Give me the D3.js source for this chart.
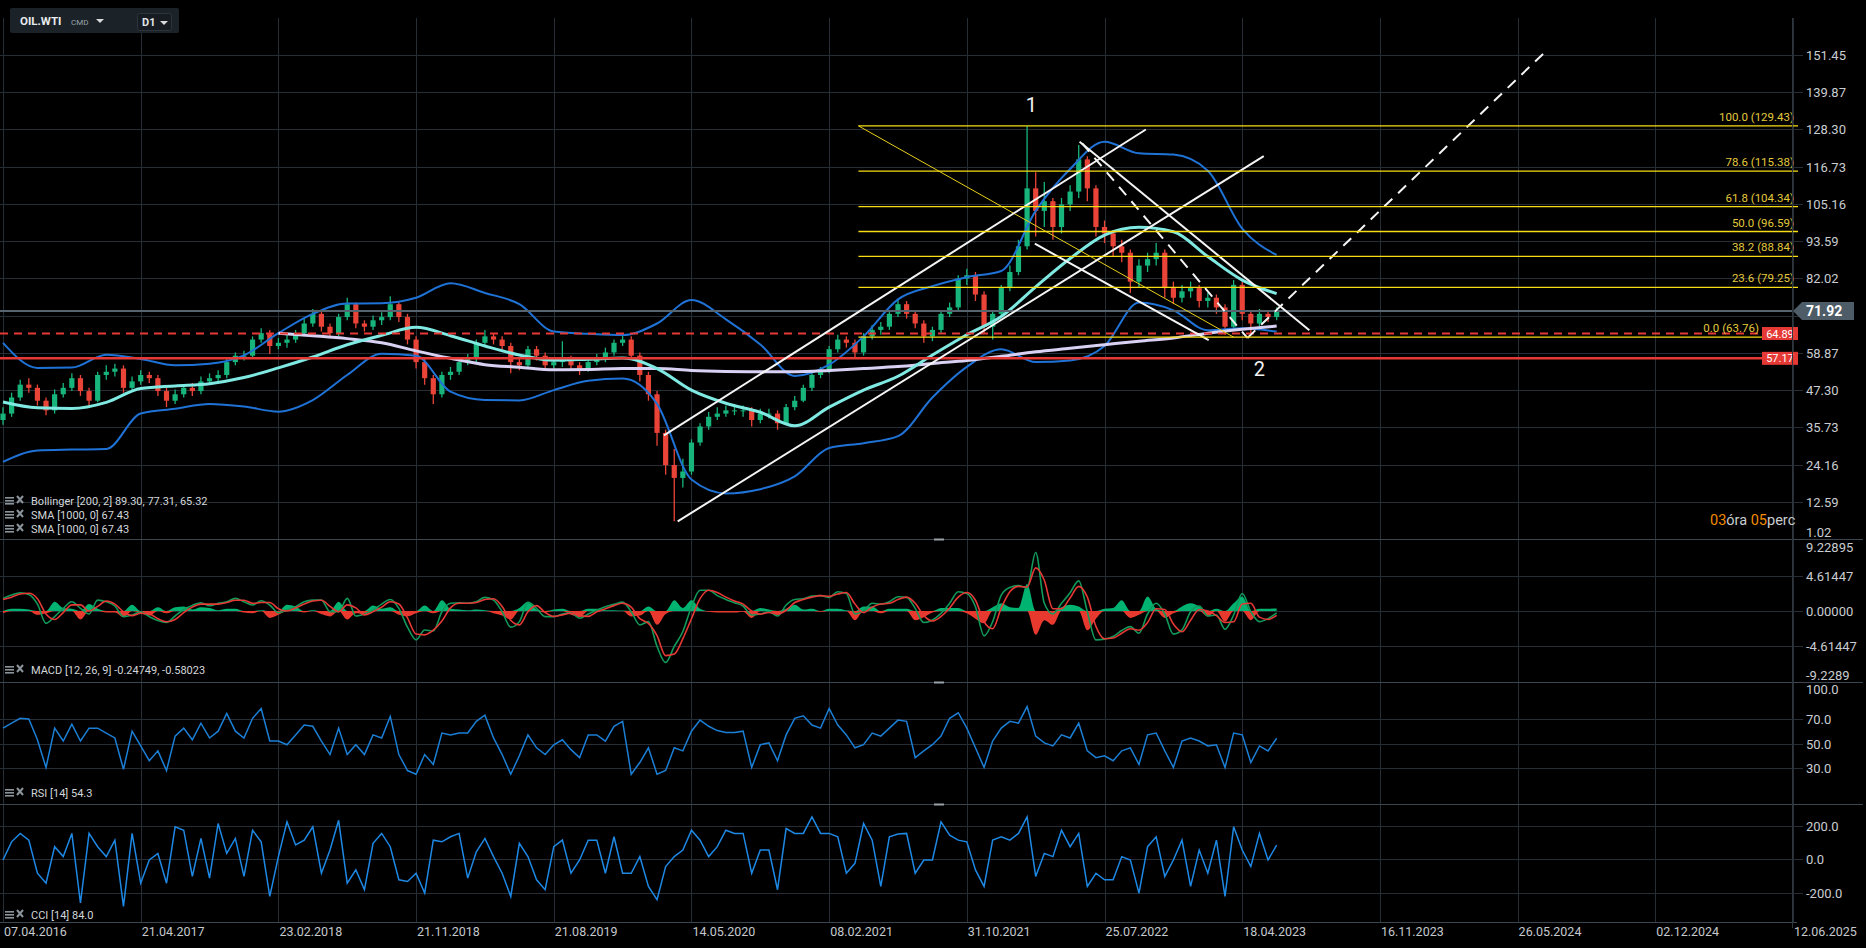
<!DOCTYPE html>
<html>
<head>
<meta charset="utf-8">
<script src="https://cdn.jsdelivr.net/npm/d3@7/dist/d3.min.js"></script>
<style>
  html, body { margin: 0; background: #000; }
  svg { display: block; font-family: Roboto, "Noto Sans", sans-serif; }
</style>
</head>
<body>
<div id="chart"></div>
<script>
'use strict';

/* OIL.WTI D1 – Kerze + Bollinger/SMA, darunter MACD, RSI, CCI.
   Ein Datenpunkt = ein Balkenblock (Index i), 16 Indizes je Datumsraster. */

const DATE_LABELS = ['07.04.2016', '21.04.2017', '23.02.2018', '21.11.2018', '21.08.2019',
  '14.05.2020', '08.02.2021', '31.10.2021', '25.07.2022', '18.04.2023', '16.11.2023',
  '26.05.2024', '02.12.2024', '12.06.2025'];
const BARS_PER_LABEL = 16;

const FIRST_OPEN = 38;
const CLOSES = [40, 45, 49, 48, 44, 41, 46, 48, 51, 47,
  44, 52, 53, 54, 48, 50, 52, 51, 47, 44,
  46, 48, 47, 50, 51, 52, 56, 58, 58, 63,
  65, 61, 62, 63, 65, 68, 71, 67, 65, 70,
  74, 68, 67, 69, 70, 74, 70, 63, 56, 51,
  46, 52, 53, 56, 57, 62, 64, 63, 61, 56,
  55, 60, 58, 55, 56, 57, 55, 54, 56, 57,
  59, 62, 63, 58, 52, 46, 34, 24, 20, 22,
  31, 36, 39, 40, 41, 41, 41, 38, 40, 40,
  37, 42, 44, 48, 52, 53, 60, 63, 62, 59,
  64, 66, 67, 71, 74, 71, 68, 64, 66, 71,
  73, 82, 83, 77, 67, 71, 79, 84, 92, 110,
  103, 106, 98, 105, 109, 119, 110, 98, 96, 92,
  90, 81, 86, 88, 90, 79, 76, 78, 79, 75,
  76, 73, 67, 80, 71, 68, 71, 70, 71.92];
const HIGHS = [42, 46.5, 50.5, 51, 49, 45, 47.5, 49.5, 52.5, 52,
  48, 53, 55, 55.5, 55, 51.5, 53.5, 53, 52, 48,
  47.5, 49, 49.5, 51.5, 52.5, 53.5, 57, 59, 59.5, 64,
  66.5, 66, 63.5, 64.5, 66, 69.5, 72.5, 72, 68, 71,
  76, 74.5, 69, 70.5, 71.5, 76.5, 75, 71, 64, 57,
  52, 53, 54.5, 57, 58.5, 63, 66, 65, 64, 62,
  57, 61, 61, 59, 57.5, 62.5, 58, 56, 57.5, 58.5,
  60.5, 63, 64.5, 64, 59, 53, 47, 35, 29, 26,
  32, 37, 40.5, 42, 42.5, 43, 42.5, 42, 41.5, 41.5,
  41, 43, 45.5, 49, 53, 54.5, 61, 64.5, 64, 63,
  65, 67.5, 68.5, 72, 75.5, 75, 72, 69, 67, 72,
  74.5, 83, 85, 84, 78, 72, 80, 86, 94, 129.4,
  115, 112, 107, 107, 111, 123.5, 120, 111, 100, 97,
  94, 91, 88, 90, 93, 91, 81, 80, 81, 80,
  77.5, 77, 74, 81.5, 81, 72, 72.5, 72, 73];
const LOWS = [36.5, 39, 44, 46.5, 42.5, 39.5, 40, 45, 47, 45.5,
  42, 43.5, 50.5, 51.5, 46.5, 47, 49, 49.5, 45.5, 42,
  43, 45, 45.5, 46, 49, 50, 51, 55, 56.5, 57.5,
  62, 58.5, 60, 60.5, 62, 64, 67, 65.5, 63.5, 64,
  69, 66.5, 65.5, 66, 67.5, 69, 68.5, 61.5, 54, 49,
  43, 45, 50.5, 52, 55, 56, 61, 61.5, 59.5, 52.5,
  53.5, 54, 56.5, 53.5, 54, 54.5, 53.5, 52, 53, 55,
  56, 58, 61, 57, 50, 44, 30, 21, 6.5, 17,
  21, 30, 35, 38, 39, 39.5, 39, 36, 37, 38.5,
  35, 36.5, 41, 43.5, 47, 51, 52.5, 59, 60.5, 57.5,
  58, 63, 64.5, 66, 70, 69.5, 66.5, 62, 62.5, 65,
  70, 72, 80, 75, 65, 63, 70, 78, 83, 91,
  95, 98, 94, 96, 103, 107, 106, 95, 93, 89,
  87, 77.5, 79, 84, 86, 76, 74, 74.5, 76, 73,
  73, 71, 64.5, 66, 69, 64.5, 67, 68.5, 69];

// Bollinger [200, 2] und SMA [1000] – jeder 4. Index
const BAND_STEP = 4;
const BB_UPPER = [62, 54.2, 54.3, 58.3, 57, 55, 55.5, 58.1, 65, 71,
  74.2, 74.3, 76, 80.5, 77.5, 74, 65.5, 64.8, 64.4, 68,
  75.3, 69.3, 61.5, 51.7, 55.2, 64, 75.5, 79.6, 82.4, 84.3,
  103, 116, 124.5, 120.9, 120.5, 115.5, 97.5, 89.3];
const BB_MIDDLE = [43.6, 41.8, 41.6, 43.5, 47.8, 48.6, 49.3, 51.2, 54.2, 57.6,
  61.4, 64.3, 66.8, 64.2, 61, 58.2, 56.6, 56.9, 57.3, 54,
  47.3, 43.2, 40.4, 36.2, 42, 47.3, 51.6, 58.2, 64.5, 70.2,
  79.4, 88.2, 95.5, 97.9, 96.5, 88.8, 81.5, 77.3];
const BB_LOWER = [25, 28.5, 28.8, 29, 40, 41.5, 43, 42.2, 40.6, 44.2,
  52, 58.6, 58, 46.8, 44.2, 44.1, 47.3, 50.2, 50.9, 43,
  19.5, 15.2, 16.5, 20.5, 29.3, 30.8, 33, 45, 54.5, 60,
  56, 56.5, 61, 74.5, 72.1, 65.9, 66.5, 65.5];
const SMA_1000 = [null, null, null, null, null, null, null, null, 65, 64.2,
  63.3, 62, 59.5, 57.2, 55.2, 54.4, 53.6, 53.7, 54, 54,
  53.4, 53.1, 53, 53, 53.4, 54, 54.6, 55.6, 56.5, 57.8,
  59.2, 60.3, 61.4, 62.5, 63.5, 65, 66.2, 67.2];

const MACD = [1.64, 2.07, 2.37, 2.16, 0.9, -1.6, -0.73, 0.34, 1.2, 0.34,
  -0.39, 1.42, 1.2, 0.65, -0.73, -0.52, -0.09, -0.73, -1.25, -1.5,
  -0.65, 0.2, 0.73, 1.08, 0.69, 1.0, 1.2, 1.64, 1.2, 0.78,
  1.34, 0.78, -0.22, 0.13, 0.56, 1.2, 1.42, 1.42, -0.09, -0.09,
  1.64, -0.65, -0.39, 0.13, 0.9, 1.5, 0.34, -2.1, -3.75, -2.46,
  -2.6, -0.1, 1.0, 1.08, 1.0, 1.2, 1.77, 1.42, -0.09, -2.1,
  -1.38, 1.12, 0.34, -0.73, -0.73, -0.39, -0.22, -0.95, -0.39, 0.13,
  0.56, 0.86, 1.16, -0.09, -1.81, -1.38, -4.6, -6.7, -4.6, -2.67,
  0.56, 2.7, 2.7, 2.0, 1.5, 1.08, 0.65, -0.52, -0.39, -0.09,
  -0.65, 0.78, 1.5, 1.6, 1.94, 2.0, 1.77, 2.5, 2.28, -0.39,
  0.04, 1.0, 0.9, 1.2, 1.85, 1.77, 0.34, -1.5, -1.16, -0.3,
  1.0, 2.5, 2.28, 0.56, -3.23, -1.38, 2.07, 3.06, 3.32, 3.0,
  7.6, 1.0, -0.39, 1.0, 2.37, 3.92, -0.09, -3.75, -3.66, -3.32,
  -2.54, -2.03, -2.89, -0.39, 1.0, -0.39, -3.0, -2.46, -0.09, 0.65,
  -0.65, -0.52, -2.37, -0.52, 2.28, -0.09, -1.38, -0.99, -0.25];
const MACD_SIGNAL = [1.5, 1.8, 2.2, 2.3, 1.6, -0.4, -1.1, -0.2, 0.8, 0.8,
  0.0, 0.6, 1.3, 0.9, -0.1, -0.6, -0.3, -0.4, -1.0, -1.4,
  -1.1, -0.2, 0.5, 0.9, 0.9, 0.9, 1.1, 1.4, 1.4, 1.0,
  1.1, 1.1, 0.3, 0.0, 0.4, 0.9, 1.3, 1.4, 0.6, -0.1,
  0.8, 0.4, -0.5, -0.1, 0.5, 1.2, 0.9, -0.9, -3.0, -3.1,
  -2.5, -1.3, 0.4, 1.0, 1.0, 1.1, 1.5, 1.6, 0.6, -1.2,
  -1.8, -0.1, 0.7, -0.2, -0.7, -0.5, -0.3, -0.6, -0.7, -0.1,
  0.3, 0.7, 1.0, 0.5, -1.0, -1.6, -3.2, -5.8, -5.6, -3.6,
  -1.0, 1.6, 2.7, 2.4, 1.8, 1.3, 0.9, 0.0, -0.4, -0.2,
  -0.4, 0.1, 1.1, 1.5, 1.8, 2.0, 1.9, 2.2, 2.4, 0.9,
  -0.2, 0.5, 0.9, 1.0, 1.5, 1.8, 1.0, -0.6, -1.3, -0.7,
  0.4, 1.8, 2.4, 1.4, -1.4, -2.3, 0.4, 2.5, 3.2, 3.1,
  5.6, 4.0, 0.3, 0.3, 1.7, 3.2, 1.8, -2.0, -3.6, -3.5,
  -2.9, -2.3, -2.5, -1.5, 0.3, 0.2, -1.7, -2.7, -1.2, 0.2,
  0.0, -0.6, -1.5, -1.4, 0.9, 1.0, -0.8, -1.1, -0.58];
const MACD_HIST = [-0.3, 0.3, 0.3, 0.2, -0.5, -0.3, 1.2, 0.4, 0.3, -1.1,
  0.9, 0.3, -0.2, -0.2, -0.8, 0.8, -0.3, -0.6, 0.5, -0.3,
  0.5, 0.6, 0.2, 0.5, 0.4, 0.1, 0.3, 0.3, -0.2, -0.3,
  0.1, -0.9, -0.5, 0.8, 0.6, -0.2, 0.1, -0.4, -0.7, 1.2,
  -1.1, -0.3, -0.4, 0.7, 0.3, 0.5, -0.5, -0.7, -0.3, 0.7,
  -0.3, 1.4, 0.3, 0.2, 0.1, 0.2, 0.1, -0.3, -0.6, -1.1,
  0.4, 1.2, 0.2, -0.2, 0.2, 0.3, -0.5, -0.8, 0.3, 0.3,
  0.1, 0.1, 0.05, -0.7, -0.6, 0.6, -1.8, -0.4, 1.4, 0.4,
  1.4, 0.3, -0.1, -0.2, -0.2, -0.2, -0.1, -0.9, 0.4, 0.2,
  -0.5, 0.3, 0.8, 0.2, 0.3, -0.1, 0.3, 0.3, 0.1, -1.2,
  0.6, 0.6, -0.3, 0.3, 0.3, 0.3, -1.2, -0.8, -0.2, 0.4,
  0.4, 0.4, -0.3, -1.0, -1.6, 0.5, 1.0, 0.5, 0.4, 3.5,
  -3.1, -1.2, -1.8, 0.5, 0.8, 0.6, -2.5, -1.0, 0.3, 0.4,
  1.4, -0.9, -0.5, 1.9, 0.3, -0.9, -0.3, 0.6, 1.0, 0.6,
  -0.7, 0.3, -1.4, 1.0, 1.9, -1.2, 0.3, 0.3, 0.33];

const RSI = [62.5, 66.5, 70.5, 70, 53, 30.5, 62.5, 52, 65.7, 52,
  62.5, 62.5, 58.5, 54.5, 29, 60, 48, 36, 44, 28,
  56, 62.5, 53, 66.5, 54.5, 60, 74.5, 60, 54.5, 70.5,
  78.5, 52, 52, 49, 57, 65, 64, 52, 41, 62.5,
  41, 49, 41, 57, 54.5, 72, 41, 28, 25, 41,
  33, 58.5, 57, 58.5, 58.5, 68, 73, 54.5, 41, 25,
  40, 57, 46.5, 41, 49, 53, 45, 38.5, 57, 57,
  52, 64, 68, 25, 34.5, 46.5, 25, 28, 46.5, 44,
  60, 69, 64, 60.5, 59, 59, 60, 30.5, 49, 50.5,
  36, 57, 70.5, 72.5, 65, 62.5, 78.5, 65, 57, 46.5,
  49, 58.5, 56, 62.5, 69, 68, 38.5, 44, 49, 56,
  70.5, 75, 62.5, 46.5, 30.5, 52, 62.5, 68, 66.5, 80,
  56, 50.5, 48, 57, 54.5, 66.5, 44, 38.5, 40, 36,
  44, 46.5, 33, 57, 58.5, 44, 30.5, 52, 54.5, 52,
  48, 49, 30.5, 58.5, 57, 34.5, 48, 44, 54.3];

const CCI = [-4, 104, 154, 114, -83, -142, 75, 16, 154, -260,
  154, 75, 16, 114, -280, 154, -142, -4, 35, -142,
  193, 173, -102, 124, -112, 213, 35, 124, -102, 173,
  104, -221, 16, 223, 85, 114, 193, -83, 55, 232,
  -142, -63, -181, 95, 154, 75, -122, -132, -83, -201,
  114, 104, 134, 154, -112, 45, 124, 16, -83, -221,
  95, 16, -122, -181, 75, 114, -83, -4, 114, 114,
  -83, 134, -83, -83, 16, -161, -240, -43, 16, 55,
  173, 114, 16, 75, 173, 154, 154, -83, 55, 55,
  -181, 183, 154, 154, 252, 154, 154, 134, -83, -24,
  213, 114, -161, 134, 150, 154, -83, -4, -4, 223,
  144, 114, 104, -63, -161, 114, 134, 114, 154, 252,
  -102, 35, 16, 173, 75, 154, -161, -83, -122, -122,
  16, -4, -201, 75, 134, -102, -4, 114, -161, 55,
  -83, 114, -221, 193, 55, -43, 154, -4, 84];

// Achsenbeschriftungen
const PRICE_TICKS = [151.45, 139.87, 128.30, 116.73, 105.16, 93.59, 82.02, 70.45, 58.87, 47.30, 35.73, 24.16, 12.59, 1.02];
const MACD_TICKS = [9.22895, 4.61447, 0, -4.61447, -9.22895];
const MACD_TICK_LABELS = ['9.22895', '4.61447', '0.00000', '-4.61447', '-9.2289'];
const RSI_TICKS = [100, 70, 50, 30];
const CCI_TICKS = [200, 0, -200];

// Horizontale Marken & Fibonacci
const LAST_PRICE = 71.92;
const LEVEL_DASHED = 64.89;
const LEVEL_SOLID = 57.17;
const FIB_LEVELS = [
  { ratio: '100.0', value: 129.43 },
  { ratio: '78.6', value: 115.38 },
  { ratio: '61.8', value: 104.34 },
  { ratio: '50.0', value: 96.59 },
  { ratio: '38.2', value: 88.84 },
  { ratio: '23.6', value: 79.25 },
  { ratio: '0.0', value: 63.76 }
];
const FIB_ANCHOR = [[99.4, 129.43], [143, 63.76]];

// Zeichnungen: [bar, Preis] -> [bar, Preis]
const TREND_LINES = [
  [[76.8, 33.2], [132.8, 128.3]],
  [[78.4, 6.5], [146.5, 120.0]],
  [[125.1, 124.5], [151.8, 65.9]],
  [[119.9, 92.8], [140.1, 62.8]]
];
const DASHED_LINES = [
  [[125.4, 124.0], [144.6, 63.5]],
  [[144.6, 63.5], [179.0, 151.9]]
];
const WAVE_LABELS = [
  { text: '1', bar: 119.5, price: 133.6 },
  { text: '2', bar: 146.0, price: 51.6 }
];

const LEGENDS = [
  { text: 'Bollinger  [200, 2] 89.30,  77.31,  65.32', y: 505 },
  { text: 'SMA [1000, 0] 67.43', y: 519 },
  { text: 'SMA [1000, 0] 67.43', y: 533 },
  { text: 'MACD  [12,  26,  9] -0.24749,  -0.58023', y: 674 },
  { text: 'RSI  [14]  54.3', y: 797 },
  { text: 'CCI  [14]  84.0', y: 919 }
];

// ------------------------------------------
// Aufbau
// ------------------------------------------
(function () {
  const W = 1866, H = 948;
  const AXIS_X = 1792;
  const TAG_X = 1762;
  const GRID = '#262d34';
  const SEP = '#3b4650';
  const UP = '#17b57b', DOWN = '#ea4438';
  const BLUE = '#1f72d6';

  const PANES = {
    main: { top: 17, bottom: 539 },
    macd: { top: 540, bottom: 682 },
    rsi: { top: 682, bottom: 804 },
    cci: { top: 804, bottom: 922 }
  };

  const nLabels = DATE_LABELS.length - 1;
  const x = d3.scaleLinear().domain([0, nLabels * BARS_PER_LABEL]).range([3, 1793]);
  const yMain = d3.scaleLinear().domain([1.02, 151.45]).range([539, 55]);
  const yMacd = d3.scaleLinear().domain([-9.22895, 9.22895]).range([682, 540]);
  const yRsi = d3.scaleLinear().domain([0, 100]).range([805, 682]);
  const yCci = d3.scaleLinear().domain([-373, 329]).range([922, 804]);

  const svg = d3.select('#chart').append('svg').attr('width', W).attr('height', H);
  svg.append('rect').attr('width', W).attr('height', H).attr('fill', '#000');

  const defs = svg.append('defs');
  defs.append('clipPath').attr('id', 'clip-main')
    .append('rect').attr('x', 0).attr('y', PANES.main.top).attr('width', AXIS_X).attr('height', PANES.main.bottom - PANES.main.top);

  // Raster
  const gGrid = svg.append('g');
  gGrid.selectAll('line.v')
    .data(d3.range(DATE_LABELS.length))
    .join('line')
    .attr('x1', k => Math.round(x(k * BARS_PER_LABEL)) + 0.5)
    .attr('x2', k => Math.round(x(k * BARS_PER_LABEL)) + 0.5)
    .attr('y1', 18).attr('y2', PANES.cci.bottom)
    .attr('stroke', GRID);

  function hGrid(values, scale) {
    gGrid.append('g').selectAll('line')
      .data(values)
      .join('line')
      .attr('x1', 0).attr('x2', 1803)
      .attr('y1', d => Math.round(scale(d)) + 0.5)
      .attr('y2', d => Math.round(scale(d)) + 0.5)
      .attr('stroke', GRID);
  }
  hGrid(PRICE_TICKS.slice(0, -1), yMain);
  hGrid(MACD_TICKS.slice(1, -1), yMacd);
  hGrid(RSI_TICKS.slice(1), yRsi);
  hGrid(CCI_TICKS, yCci);

  // Panel-Trenner
  [PANES.main.bottom, PANES.macd.bottom, PANES.rsi.bottom].forEach(yy => {
    svg.append('line').attr('x1', 0).attr('x2', 1863).attr('y1', yy + 0.5).attr('y2', yy + 0.5)
      .attr('stroke', SEP).attr('stroke-width', 1.2);
    svg.append('rect').attr('x', 934).attr('y', yy - 0.5).attr('width', 10).attr('height', 2).attr('fill', '#9aa1a8');
  });
  svg.append('line').attr('x1', 0).attr('x2', 1797).attr('y1', PANES.cci.bottom + 0.5).attr('y2', PANES.cci.bottom + 0.5)
    .attr('stroke', SEP);

  // ------------------------------------------
  // Hauptfenster
  // ------------------------------------------
  const gMain = svg.append('g').attr('clip-path', 'url(#clip-main)');

  const candles = CLOSES.map((c, i) => ({
    i, c, o: i === 0 ? FIRST_OPEN : CLOSES[i - 1], h: HIGHS[i], l: LOWS[i]
  }));

  gMain.append('g').selectAll('line')
    .data(candles)
    .join('line')
    .attr('x1', d => x(d.i)).attr('x2', d => x(d.i))
    .attr('y1', d => yMain(d.h)).attr('y2', d => yMain(d.l))
    .attr('stroke', d => d.c >= d.o ? UP : DOWN)
    .attr('stroke-width', 1.3);

  gMain.append('g').selectAll('rect')
    .data(candles)
    .join('rect')
    .attr('x', d => x(d.i) - 2.6)
    .attr('width', 5.2)
    .attr('y', d => yMain(Math.max(d.o, d.c)))
    .attr('height', d => Math.max(1, Math.abs(yMain(d.o) - yMain(d.c))))
    .attr('fill', d => d.c >= d.o ? UP : DOWN);

  const bandLine = scale => d3.line()
    .defined(d => d.v != null)
    .x(d => x(d.i)).y(d => scale(d.v))
    .curve(d3.curveMonotoneX);
  const asBand = arr => arr.map((v, k) => ({ i: k * BAND_STEP, v }));

  [BB_UPPER, BB_LOWER].forEach(arr => {
    gMain.append('path').attr('d', bandLine(yMain)(asBand(arr)))
      .attr('fill', 'none').attr('stroke', BLUE).attr('stroke-width', 2);
  });
  gMain.append('path').attr('d', bandLine(yMain)(asBand(SMA_1000)))
    .attr('fill', 'none').attr('stroke', '#d9d1f3').attr('stroke-width', 3);
  gMain.append('path').attr('d', bandLine(yMain)(asBand(BB_MIDDLE)))
    .attr('fill', 'none').attr('stroke', '#7fe9e2').attr('stroke-width', 3);

  // Horizontale Marken
  gMain.append('line').attr('x1', 0).attr('x2', AXIS_X)
    .attr('y1', yMain(LAST_PRICE)).attr('y2', yMain(LAST_PRICE))
    .attr('stroke', '#56646f').attr('stroke-width', 2);
  gMain.append('line').attr('x1', 0).attr('x2', TAG_X)
    .attr('y1', yMain(LEVEL_DASHED)).attr('y2', yMain(LEVEL_DASHED))
    .attr('stroke', '#e53935').attr('stroke-width', 2).attr('stroke-dasharray', '8,6');
  gMain.append('line').attr('x1', 0).attr('x2', TAG_X)
    .attr('y1', yMain(LEVEL_SOLID)).attr('y2', yMain(LEVEL_SOLID))
    .attr('stroke', '#e53935').attr('stroke-width', 2.5);

  // Fibonacci – Beschriftung endet vor dem roten Preis-Tag, wenn sie ihn treffen würde
  const fibX0 = x(FIB_ANCHOR[0][0]);
  const fibLabelEnd = d => Math.abs(yMain(d.value) - 5 - yMain(LEVEL_DASHED)) < 12 ? TAG_X - 3 : 1794;
  svg.append('g').selectAll('line')
    .data(FIB_LEVELS)
    .join('line')
    .attr('x1', fibX0).attr('x2', 1798)
    .attr('y1', d => yMain(d.value)).attr('y2', d => yMain(d.value))
    .attr('stroke', '#f7dc16').attr('stroke-width', 1.3);
  svg.append('g').selectAll('text')
    .data(FIB_LEVELS)
    .join('text')
    .attr('x', fibLabelEnd).attr('y', d => yMain(d.value) - 5)
    .attr('text-anchor', 'end')
    .attr('font-size', 11.5)
    .attr('fill', '#e3c93c')
    .text(d => `${d.ratio} (${d.value.toFixed(2)})`);
  gMain.append('line')
    .attr('x1', x(FIB_ANCHOR[0][0])).attr('y1', yMain(FIB_ANCHOR[0][1]))
    .attr('x2', x(FIB_ANCHOR[1][0])).attr('y2', yMain(FIB_ANCHOR[1][1]))
    .attr('stroke', '#e8cf1a').attr('stroke-width', 1);

  // Trendlinien
  gMain.append('g').selectAll('line')
    .data(TREND_LINES)
    .join('line')
    .attr('x1', d => x(d[0][0])).attr('y1', d => yMain(d[0][1]))
    .attr('x2', d => x(d[1][0])).attr('y2', d => yMain(d[1][1]))
    .attr('stroke', '#f4f4f4').attr('stroke-width', 2);
  gMain.append('g').selectAll('line')
    .data(DASHED_LINES)
    .join('line')
    .attr('x1', d => x(d[0][0])).attr('y1', d => yMain(d[0][1]))
    .attr('x2', d => x(d[1][0])).attr('y2', d => yMain(d[1][1]))
    .attr('stroke', '#f4f4f4').attr('stroke-width', 2).attr('stroke-dasharray', '11,8');

  svg.append('g').selectAll('text')
    .data(WAVE_LABELS)
    .join('text')
    .attr('x', d => x(d.bar)).attr('y', d => yMain(d.price))
    .attr('text-anchor', 'middle')
    .attr('font-size', 20)
    .attr('fill', '#f2f2f2')
    .text(d => d.text);

  // Preis-Tags
  function redTag(value) {
    const yy = yMain(value);
    svg.append('rect').attr('x', TAG_X).attr('y', yy - 6.5).attr('width', 36).attr('height', 13).attr('fill', '#e53935');
    svg.append('text').attr('x', TAG_X + 18).attr('y', yy + 4).attr('text-anchor', 'middle')
      .attr('font-size', 11).attr('fill', '#fff').text(value.toFixed(2));
  }
  redTag(LEVEL_DASHED);
  redTag(LEVEL_SOLID);

  const yl = yMain(LAST_PRICE);
  svg.append('path')
    .attr('d', `M1793,${yl} L1802,${yl - 9} L1854,${yl - 9} L1854,${yl + 9} L1802,${yl + 9} Z`)
    .attr('fill', '#4e5c67');
  svg.append('text').attr('x', 1806).attr('y', yl + 5)
    .attr('font-size', 14).attr('font-weight', 'bold').attr('fill', '#fff').text(LAST_PRICE.toFixed(2));

  // ------------------------------------------
  // MACD: Histogramm als Flächen, dazu zwei Linien
  // ------------------------------------------
  const gMacd = svg.append('g');
  const histArea = sign => d3.area()
    .x((d, i) => x(i))
    .y0(yMacd(0))
    .y1(d => yMacd(sign > 0 ? Math.max(d, 0) : Math.min(d, 0)))
    .curve(d3.curveMonotoneX);
  gMacd.append('path').attr('d', histArea(1)(MACD_HIST)).attr('fill', '#00b371');
  gMacd.append('path').attr('d', histArea(-1)(MACD_HIST)).attr('fill', '#e8392f');

  const seriesLine = scale => d3.line().x((d, i) => x(i)).y(d => scale(d));
  gMacd.append('path').attr('d', seriesLine(yMacd).curve(d3.curveMonotoneX)(MACD))
    .attr('fill', 'none').attr('stroke', '#119a5a').attr('stroke-width', 1.6);
  gMacd.append('path').attr('d', seriesLine(yMacd).curve(d3.curveMonotoneX)(MACD_SIGNAL))
    .attr('fill', 'none').attr('stroke', '#e53935').attr('stroke-width', 1.6);

  // RSI & CCI
  svg.append('path').attr('d', seriesLine(yRsi)(RSI))
    .attr('fill', 'none').attr('stroke', '#1b7fd6').attr('stroke-width', 1.5);
  svg.append('path').attr('d', seriesLine(yCci)(CCI))
    .attr('fill', 'none').attr('stroke', '#1e88e5').attr('stroke-width', 1.5);

  // ------------------------------------------
  // Achsen
  // ------------------------------------------
  svg.append('line').attr('x1', AXIS_X + 0.5).attr('x2', AXIS_X + 0.5).attr('y1', 18).attr('y2', PANES.cci.bottom + 6)
    .attr('stroke', '#2e363e');

  function axisLabels(values, labels, scale, pane) {
    svg.append('g').selectAll('text')
      .data(values)
      .join('text')
      .attr('x', 1806)
      .attr('y', d => Math.min(pane.bottom - 2, Math.max(pane.top + 12, scale(d) + 5)))
      .attr('font-size', 13)
      .attr('fill', '#c9cdd1')
      .text((d, k) => labels[k]);
  }
  const priceShown = PRICE_TICKS.filter(v => Math.abs(v - LAST_PRICE) > 3);
  axisLabels(priceShown, priceShown.map(v => v.toFixed(2)), yMain, PANES.main);
  axisLabels(MACD_TICKS, MACD_TICK_LABELS, yMacd, PANES.macd);
  axisLabels(RSI_TICKS, RSI_TICKS.map(v => v.toFixed(1)), yRsi, PANES.rsi);
  axisLabels(CCI_TICKS, CCI_TICKS.map(v => v.toFixed(1)), yCci, PANES.cci);

  svg.append('g').selectAll('text')
    .data(DATE_LABELS)
    .join('text')
    .attr('x', (d, k) => x(k * BARS_PER_LABEL) + 1)
    .attr('y', 936)
    .attr('font-size', 12.5)
    .attr('fill', '#c5c9cd')
    .text(d => d);

  // Legenden mit Symbolen
  const gLeg = svg.append('g');
  LEGENDS.forEach(l => {
    const g = gLeg.append('g').attr('transform', `translate(5,${l.y})`);
    [-8, -5, -2].forEach(dy => g.append('rect').attr('x', 0).attr('y', dy).attr('width', 9).attr('height', 1.6).attr('fill', '#8b939b'));
    g.append('path').attr('d', 'M12,-9 L18,-2 M18,-9 L12,-2').attr('stroke', '#8b939b').attr('stroke-width', 2);
    g.append('text').attr('x', 26).attr('y', 0).attr('font-size', 11).attr('fill', '#d2d6da').text(l.text);
  });

  // Countdown
  const cd = svg.append('text').attr('x', 1710).attr('y', 525).attr('font-size', 14.5);
  cd.append('tspan').attr('fill', '#f08a00').text('03');
  cd.append('tspan').attr('fill', '#c9cdd1').text('óra ');
  cd.append('tspan').attr('fill', '#f08a00').text('05');
  cd.append('tspan').attr('fill', '#c9cdd1').text('perc');

  // Kopfzeile
  const hdr = svg.append('g');
  hdr.append('rect').attr('x', 10).attr('y', 8).attr('width', 169).attr('height', 25).attr('rx', 2).attr('fill', '#1b2228');
  hdr.append('text').attr('x', 20).attr('y', 25).attr('font-size', 11.5).attr('font-weight', 'bold').attr('fill', '#e8eaec').text('OIL.WTI');
  hdr.append('text').attr('x', 71).attr('y', 25).attr('font-size', 8).attr('fill', '#9aa3ab').text('CMD');
  hdr.append('path').attr('d', 'M96,19 L104,19 L100,23 Z').attr('fill', '#d8dadc');
  hdr.append('rect').attr('x', 137.5).attr('y', 13.5).attr('width', 34).attr('height', 17).attr('rx', 2)
    .attr('fill', '#161c21').attr('stroke', '#2d353c');
  hdr.append('text').attr('x', 142).attr('y', 26).attr('font-size', 11).attr('font-weight', 'bold').attr('fill', '#e0e3e6').text('D1');
  hdr.append('path').attr('d', 'M160,21 L168,21 L164,25 Z').attr('fill', '#d8dadc');
})();
</script>
</body>
</html>
